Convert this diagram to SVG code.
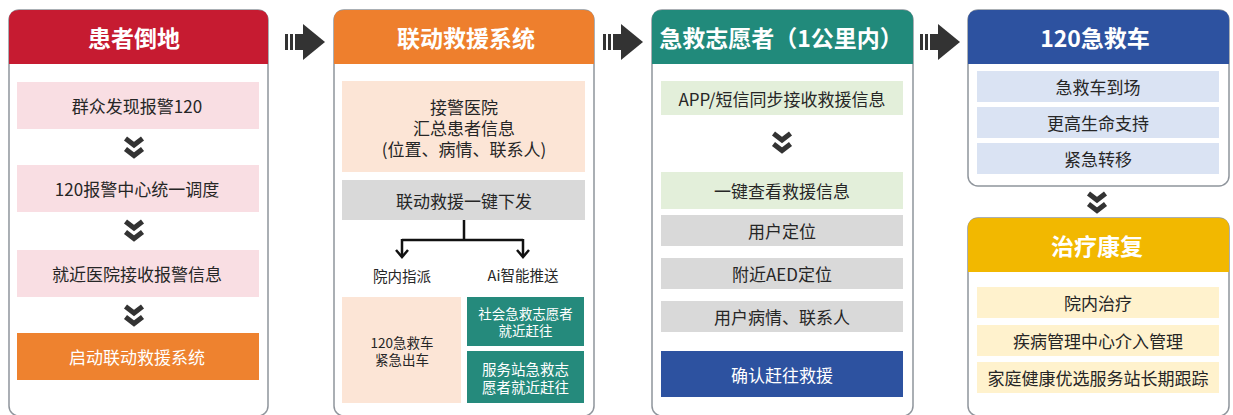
<svg xmlns="http://www.w3.org/2000/svg" xmlns:xlink="http://www.w3.org/1999/xlink" width="1233" height="415" viewBox="0 0 1233 415">
<style>
text{font-family:"Noto Sans CJK SC","Noto Sans",sans-serif;text-anchor:middle;dominant-baseline:central;fill:#262626}
.hd{font-size:23px;font-weight:bold;fill:#fff}
.t{font-size:17px}
.w{fill:#fff}
.s{font-size:14.5px}
.xs{font-size:13.5px}
.panel{fill:#fff;stroke:#8f959c;stroke-width:1.5}
.chev{fill:none;stroke:#333;stroke-width:5;stroke-linejoin:miter}
.pink{fill:#F9DEE3}.peach{fill:#FCE5D6}.gray{fill:#D9D9D9}.green{fill:#E3EFDA}.lblue{fill:#DAE3F3}.lyel{fill:#FFF2CD}
.conn{fill:none;stroke:#111;stroke-width:2.5}
</style>
<defs>
<path id="chev" class="chev" d="M-8.5,-7.5 L0,-1 L8.5,-7.5 M-8.5,3 L0,9.5 L8.5,3"/>
<g id="bigarrow" fill="#333">
<rect x="0" y="-8" width="3" height="16"/>
<rect x="5" y="-8" width="3" height="16"/>
<rect x="10" y="-8" width="10" height="16"/>
<path d="M18,-18 L40,0 L18,18 Z"/>
</g>
</defs>

<g id="panel1">
<rect class="panel" x="9" y="10" width="259" height="406" rx="10"/>
<path d="M9,64 V20 Q9,10 19,10 H258 Q268,10 268,20 V64 Z" fill="#C61B31"/>
<text class="hd" x="134" y="37">患者倒地</text>
<rect class="pink" x="17" y="82" width="242" height="47"/>
<text class="t" x="137" y="105.5">群众发现报警120</text>
<rect class="pink" x="17" y="165" width="242" height="47"/>
<text class="t" x="137" y="188.5">120报警中心统一调度</text>
<rect class="pink" x="17" y="250" width="242" height="47"/>
<text class="t" x="137" y="273.5">就近医院接收报警信息</text>
<rect x="17" y="333" width="242" height="47" fill="#EE822F"/>
<text class="t w" x="137" y="356.5">启动联动救援系统</text>
<use href="#chev" x="134" y="146"/>
<use href="#chev" x="134" y="229"/>
<use href="#chev" x="134" y="314"/>
</g>

<g id="panel2">
<rect class="panel" x="334" y="10" width="260" height="406" rx="10"/>
<path d="M334,64 V20 Q334,10 344,10 H584 Q594,10 594,20 V64 Z" fill="#EE7F2D"/>
<text class="hd" x="466" y="37">联动救援系统</text>
<rect class="peach" x="342" y="81" width="243" height="91"/>
<text class="t"><tspan x="464" y="106">接警医院</tspan><tspan x="464" y="127">汇总患者信息</tspan><tspan x="464" y="147.5">(位置、病情、联系人)</tspan></text>
<rect class="gray" x="342" y="180" width="243" height="40"/>
<text class="t" x="464" y="200">联动救援一键下发</text>
<text class="s" x="402" y="275">院内指派</text>
<text class="s" x="523" y="274">Ai智能推送</text>
<rect class="peach" x="342" y="297" width="119" height="106"/>
<text class="xs"><tspan x="402" y="341.5">120急救车</tspan><tspan x="402" y="359">紧急出车</tspan></text>
<rect x="467" y="297" width="117" height="49" fill="#258A7C"/>
<text class="xs w"><tspan x="525.5" y="313">社会急救志愿者</tspan><tspan x="525.5" y="330">就近赶往</tspan></text>
<rect x="467" y="351" width="117" height="52" fill="#258A7C"/>
<text class="s w"><tspan x="525.5" y="368">服务站急救志</tspan><tspan x="525.5" y="386">愿者就近赶往</tspan></text>
</g>

<g id="panel3">
<rect class="panel" x="652" y="10" width="261" height="406" rx="10"/>
<path d="M652,64 V20 Q652,10 662,10 H903 Q913,10 913,20 V64 Z" fill="#218A7B"/>
<text class="hd" x="781" y="37" font-size="22">急救志愿者（1公里内）</text>
<rect class="green" x="661" y="81" width="242" height="34"/>
<text class="t" x="782" y="98">APP/短信同步接收救援信息</text>
<use href="#chev" x="782" y="141"/>
<rect class="green" x="661" y="172" width="242" height="37"/>
<text class="t" x="782" y="190.5">一键查看救援信息</text>
<rect class="gray" x="661" y="215" width="242" height="31"/>
<text class="t" x="782" y="230.5">用户定位</text>
<rect class="gray" x="661" y="258" width="242" height="31"/>
<text class="t" x="782" y="273.5">附近AED定位</text>
<rect class="gray" x="661" y="301" width="242" height="31"/>
<text class="t" x="782" y="316.5">用户病情、联系人</text>
<rect x="661" y="351" width="242" height="46" fill="#2D52A0"/>
<text class="t w" x="782" y="374">确认赶往救援</text>
</g>

<g id="panel4">
<rect class="panel" x="968" y="10" width="261" height="176" rx="10"/>
<path d="M968,64 V20 Q968,10 978,10 H1219 Q1229,10 1229,20 V64 Z" fill="#2D52A0"/>
<text class="hd" x="1095" y="37">120急救车</text>
<rect class="lblue" x="977" y="71" width="242" height="31"/>
<text class="t" x="1098" y="86.5">急救车到场</text>
<rect class="lblue" x="977" y="107" width="242" height="31"/>
<text class="t" x="1098" y="122.5">更高生命支持</text>
<rect class="lblue" x="977" y="143" width="242" height="31"/>
<text class="t" x="1098" y="158.5">紧急转移</text>
</g>

<g id="panel5">
<rect class="panel" x="968" y="218" width="261" height="198" rx="10"/>
<path d="M968,272 V228 Q968,218 978,218 H1219 Q1229,218 1229,228 V272 Z" fill="#F2B800"/>
<text class="hd" x="1097" y="245">治疗康复</text>
<rect class="lyel" x="977" y="287" width="242" height="31"/>
<text class="t" x="1098" y="302.5">院内治疗</text>
<rect class="lyel" x="977" y="325" width="242" height="31"/>
<text class="t" x="1098" y="340.5">疾病管理中心介入管理</text>
<rect class="lyel" x="977" y="362" width="242" height="31"/>
<text class="t" x="1098" y="377.5" font-size="16">家庭健康优选服务站长期跟踪</text>
</g>

<g id="connectors">
<use href="#bigarrow" x="285" y="42"/>
<use href="#bigarrow" x="603" y="42"/>
<use href="#bigarrow" x="920" y="42"/>
<use href="#chev" x="1097" y="201"/>
<path class="conn" d="M464,220 V240 M402,240 H523 M402,239 V256 M523,239 V256"/>
<path class="conn" d="M396,250 L402,257 L408,250 M517,250 L523,257 L529,250"/>
</g>
</svg>
